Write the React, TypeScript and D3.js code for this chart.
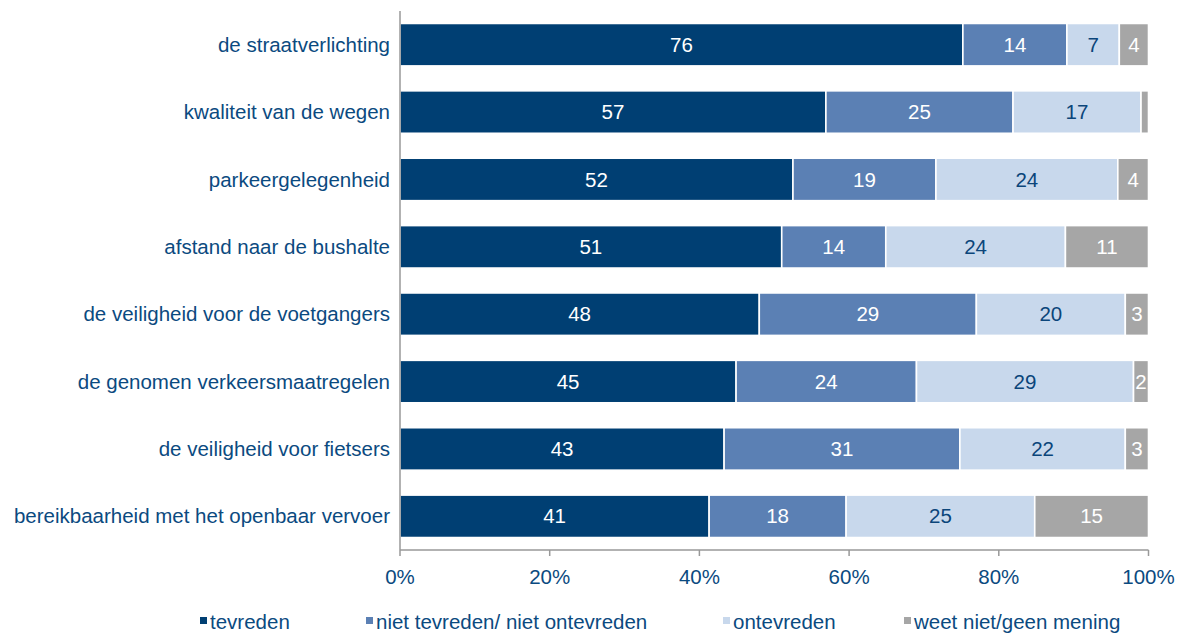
import React from "react";
import * as d3 from "d3";

const categories = [
  "de straatverlichting",
  "kwaliteit van de wegen",
  "parkeergelegenheid",
  "afstand naar de bushalte",
  "de veiligheid voor de voetgangers",
  "de genomen verkeersmaatregelen",
  "de veiligheid voor fietsers",
  "bereikbaarheid met het openbaar vervoer",
];
const seriesNames = ["tevreden", "niet tevreden/ niet ontevreden", "ontevreden", "weet niet/geen mening"];
const tevreden = [75.2, 56.9, 52.5, 51.0, 48.0, 44.9, 43.3, 41.3];
const neutraal = [13.9, 25.0, 19.1, 13.9, 29.0, 24.1, 31.5, 18.3];
const ontevreden = [7.0, 17.1, 24.3, 24.0, 19.9, 29.0, 22.1, 25.2];
const weetNiet = [3.9, 1.0, 4.1, 11.1, 3.1, 2.0, 3.1, 15.2];
const tevredenLabels = ["76", "57", "52", "51", "48", "45", "43", "41"];
const neutraalLabels = ["14", "25", "19", "14", "29", "24", "31", "18"];
const ontevredenLabels = ["7", "17", "24", "24", "20", "29", "22", "25"];
const weetNietLabels = ["4", "", "4", "11", "3", "2", "3", "15"];
const ticks = [0, 20, 40, 60, 80, 100];

const colors = ["#003F73", "#5B80B4", "#C8D8EC", "#A6A6A6"];
const labelColors = ["#FFFFFF", "#FFFFFF", "#0B457A", "#FFFFFF"];
const textColor = "#0B4A80";
const font = "'Liberation Sans', Arial, sans-serif";
const FS = 20.5;

export default function App() {
  const W = 1185, H = 635;
  const x0 = 400, x1 = 1148.5, yTop = 11, yBot = 550;
  const x = d3.scaleLinear().domain([0, 100]).range([x0, x1]);
  const y = d3.scaleBand<string>().domain(categories).range([yTop, yBot]).paddingInner(0.37).paddingOuter(0.185);
  const seriesVals = [tevreden, neutraal, ontevreden, weetNiet];
  const seriesLabels = [tevredenLabels, neutraalLabels, ontevredenLabels, weetNietLabels];
  const rows = categories.map((c, i) => {
    const o: any = { cat: c };
    seriesNames.forEach((s, k) => (o[s] = seriesVals[k][i]));
    return o;
  });
  const stacked = d3.stack<any>().keys(seriesNames)(rows);
  const legendX = [200, 366, 723, 904];

  return (
    <svg width={W} height={H} style={{ position: "absolute", left: 0, top: 0 }} fontFamily={font}>
      <rect width={W} height={H} fill="#fff" />
      {stacked.map((layer, k) =>
        layer.map((d, i) => {
          const xa = x(d[0]), xb = x(d[1]);
          const yy = y(categories[i])!;
          const lab = seriesLabels[k][i];
          return (
            <g key={`${k}-${i}`}>
              <rect x={xa} y={yy} width={Math.max(0, xb - xa)} height={y.bandwidth()} fill={colors[k]} stroke="#fff" strokeWidth={1.6} />
              {lab && (
                <text x={(xa + xb) / 2} y={yy + y.bandwidth() / 2} dy="0.35em" textAnchor="middle" fontSize={FS} fill={labelColors[k]}>
                  {lab}
                </text>
              )}
            </g>
          );
        })
      )}
      <line x1={x0} x2={x0} y1={yTop} y2={yBot} stroke="#999" strokeWidth={1.5} />
      <line x1={x0} x2={x1} y1={yBot} y2={yBot} stroke="#999" strokeWidth={1.5} />
      {ticks.map((t) => (
        <g key={t}>
          <line x1={x(t)} x2={x(t)} y1={yBot} y2={yBot + 6} stroke="#999" strokeWidth={1.5} />
          <text x={x(t)} y={577} dy="0.35em" textAnchor="middle" fontSize={FS} fill={textColor}>
            {t}%
          </text>
        </g>
      ))}
      {categories.map((c) => (
        <text key={c} x={390} y={y(c)! + y.bandwidth() / 2} dy="0.35em" textAnchor="end" fontSize={FS} fill={textColor}>
          {c}
        </text>
      ))}
      {seriesNames.map((s, k) => (
        <g key={s}>
          <rect x={legendX[k]} y={617} width={7} height={7} fill={colors[k]} />
          <text x={legendX[k] + 10} y={622} dy="0.35em" fontSize={FS} fill={textColor}>
            {s}
          </text>
        </g>
      ))}
    </svg>
  );
}
